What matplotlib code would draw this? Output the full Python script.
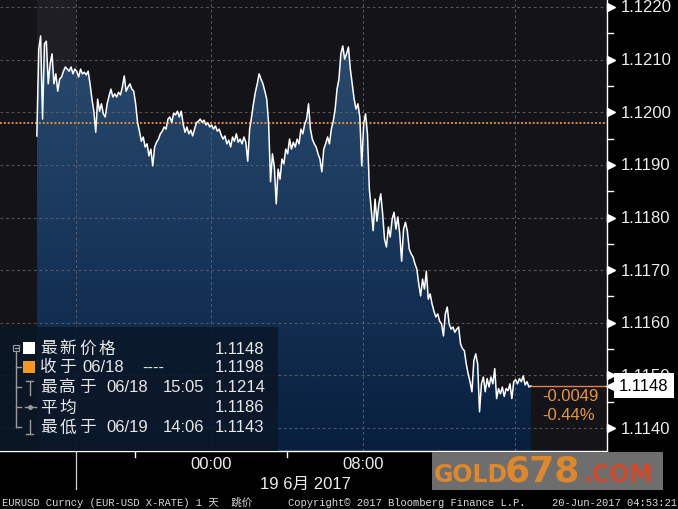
import numpy as np
import pandas as pd
import matplotlib
matplotlib.use("Agg")
import matplotlib.pyplot as plt
import matplotlib.dates as mdates
import matplotlib.transforms as mtransforms
from matplotlib.patches import Rectangle
from matplotlib.lines import Line2D
from matplotlib.colors import LinearSegmentedColormap

# ---------------- data ----------------
start_time = "2017-06-18 14:50"
step_minutes = 6
prices = [
    1.11955, 1.12120, 1.12145, 1.11987, 1.12130, 1.12135, 1.12054, 1.12092, 1.12111, 1.12054,
    1.12073, 1.12040, 1.12063, 1.12067, 1.12078, 1.12086, 1.12082, 1.12078, 1.12086, 1.12073,
    1.12082, 1.12078, 1.12067, 1.12082, 1.12073, 1.12076, 1.12071, 1.12078, 1.12054, 1.12025,
    1.12002, 1.11962, 1.12025, 1.12002, 1.12016, 1.11997, 1.11991, 1.12016, 1.12031, 1.12044,
    1.12029, 1.12035, 1.12029, 1.12038, 1.12033, 1.12048, 1.12069, 1.12040, 1.12048, 1.12054,
    1.12044, 1.12040, 1.12016, 1.11981, 1.11964, 1.11945, 1.11953, 1.11934, 1.11940, 1.11917,
    1.11930, 1.11898, 1.11934, 1.11943, 1.11949, 1.11959, 1.11964, 1.11972, 1.11968, 1.11987,
    1.11991, 1.11981, 1.11998, 1.11995, 1.12002, 1.11991, 1.12002, 1.11978, 1.11962, 1.11972,
    1.11959, 1.11966, 1.11955, 1.11968, 1.11980, 1.11983, 1.11987, 1.11981, 1.11985, 1.11976,
    1.11980, 1.11972, 1.11976, 1.11968, 1.11974, 1.11964, 1.11968, 1.11957, 1.11949, 1.11955,
    1.11940, 1.11947, 1.11934, 1.11953, 1.11945, 1.11959, 1.11943, 1.11949, 1.11940, 1.11953,
    1.11943, 1.11907, 1.11968, 1.11991, 1.12016, 1.12038, 1.12054, 1.12073, 1.12063, 1.12054,
    1.12040, 1.12025, 1.11978, 1.11868, 1.11921, 1.11896, 1.11826, 1.11892, 1.11873, 1.11911,
    1.11902, 1.11930, 1.11921, 1.11949, 1.11930, 1.11943, 1.11934, 1.11949, 1.11940, 1.11968,
    1.11959, 1.11978, 1.11987, 1.12016, 1.11968, 1.11949, 1.11940, 1.11934, 1.11921, 1.11911,
    1.11887, 1.11930, 1.11940, 1.11953, 1.11940, 1.11968, 1.11983, 1.12006, 1.12044, 1.12063,
    1.12111, 1.12126, 1.12101, 1.12111, 1.12124, 1.12082, 1.12054, 1.12025, 1.12006, 1.12016,
    1.11991, 1.11898, 1.11978, 1.11997, 1.11959, 1.11854, 1.11816, 1.11775, 1.11835, 1.11793,
    1.11826, 1.11845, 1.11807, 1.11759, 1.11744, 1.11782, 1.11763, 1.11797, 1.11810, 1.11778,
    1.11801, 1.11769, 1.11717, 1.11778, 1.11791, 1.11774, 1.11740, 1.11731, 1.11725, 1.11712,
    1.11702, 1.11674, 1.11651, 1.11683, 1.11664, 1.11698, 1.11645, 1.11655, 1.11636, 1.11622,
    1.11611, 1.11617, 1.11603, 1.11598, 1.11575, 1.11617, 1.11630, 1.11598, 1.11588, 1.11592,
    1.11582, 1.11588, 1.11592, 1.11560, 1.11551, 1.11547, 1.11522, 1.11503, 1.11488, 1.11469,
    1.11528, 1.11541, 1.11522, 1.11431, 1.11484, 1.11497, 1.11469, 1.11494, 1.11478, 1.11497,
    1.11484, 1.11513, 1.11456, 1.11475, 1.11465, 1.11478, 1.11460, 1.11475, 1.11471, 1.11484,
    1.11456, 1.11488, 1.11492, 1.11484, 1.11494, 1.11488, 1.11499, 1.11482, 1.11488, 1.11478,
    1.11480,
]
prev_close = 1.1198
y_ticks = [1.1140, 1.1150, 1.1160, 1.1170, 1.1180, 1.1190, 1.1200, 1.1210, 1.1220]
y_limits = (1.113564, 1.122152)
x_limits = ("2017-06-18 12:53:40", "2017-06-19 20:50:30")
session_mark = "2017-06-18 16:55"
grid_times = ["2017-06-18 16:55", "2017-06-19 00:00", "2017-06-19 08:00", "2017-06-19 16:00"]
minor_tick_times = ["2017-06-18 20:00", "2017-06-19 04:00", "2017-06-19 12:00", "2017-06-19 16:00"]
label_times = ["2017-06-19 00:00", "2017-06-19 08:00"]
label_texts = ["00:00", "08:00"]
date_label = "19 6月 2017"

legend_names = ["最新价格", "收于", "最高于", "平均", "最低于"]
legend_mid = ["", "06/18", "06/18", "", "06/19"]
legend_mid2 = ["", "----", "15:05", "", "14:06"]
legend_values = ["1.1148", "1.1198", "1.1214", "1.1186", "1.1143"]
change_abs = "-0.0049"
change_pct = "-0.44%"

footer_left = "EURUSD Curncy (EUR-USD X-RATE) 1 天  跳价"
footer_mid = "Copyright© 2017 Bloomberg Finance L.P."
footer_right = "20-Jun-2017 04:53:21"

# ---------------- helpers ----------------
W, H = 678, 510
def fx(x):
    return x / W
def fy(y):
    return 1 - y / H

times = pd.date_range(start_time, periods=len(prices), freq=f"{step_minutes}min")
tnum = mdates.date2num(times.to_pydatetime())
pr = np.array(prices)
def tn(s):
    return mdates.date2num(pd.Timestamp(s).to_pydatetime())

x0, x1 = tn(x_limits[0]), tn(x_limits[1])
ylo, yhi = y_limits

fig = plt.figure(figsize=(6.78, 5.10), dpi=100, facecolor="black")
ax = fig.add_axes([0, fy(452), fx(607), 452 / H])
ax.set_facecolor("#141318")
ax.set_xlim(x0, x1)
ax.set_ylim(ylo, yhi)
ax.set_xticks([])
ax.set_yticks([])
for s in ["top", "left"]:
    ax.spines[s].set_visible(False)
for s in ["right", "bottom"]:
    ax.spines[s].set_color("white")
    ax.spines[s].set_linewidth(1.0)

# session shading
ax.axvspan(tnum[0], tn(session_mark), color="#1f1e24", zorder=0.5, lw=0)

# gradient fill
poly = ax.fill_between(tnum, pr, ylo, facecolor="none", edgecolor="none", zorder=1)
cmap = LinearSegmentedColormap.from_list("f", ["#081f3e", "#17365a", "#2b4b6e"])
grad = np.linspace(1, 0, 256).reshape(-1, 1)
im = ax.imshow(grad, extent=[tnum[0], tnum[-1], ylo, pr.max()], aspect="auto",
               cmap=cmap, origin="upper", zorder=1, interpolation="bilinear")
im.set_clip_path(poly.get_paths()[0], transform=ax.transData)
ax.set_xlim(x0, x1)
ax.set_ylim(ylo, yhi)

# grid
for v in y_ticks:
    ax.axhline(v, color="#6a6a74", lw=0.8, ls=(0, (2.5, 2.5)), alpha=0.75, zorder=2)
for t in grid_times:
    ax.axvline(tn(t), color="#6a6a74", lw=0.8, ls=(0, (2.5, 2.5)), alpha=0.75, zorder=2)

# previous close dotted line
ax.axhline(prev_close, color="#e08a35", lw=1.4, ls=(0, (1.0, 1.0)), zorder=3)

# price line
ax.plot(tnum, pr, color="white", lw=1.1, zorder=4)
# last-price connector
ax.plot([tnum[-1], x1], [pr[-1], pr[-1]], color="#e47f4c", lw=1.0, zorder=4, clip_on=False)

# right axis labels
tr_y = mtransforms.blended_transform_factory(ax.transAxes, ax.transData)
for v in y_ticks:
    ax.plot([611 / 607], [v], marker=">", ms=6, color="white", transform=tr_y,
            clip_on=False, zorder=5)
    ax.text(621 / 607, v, f"{v:.4f}", transform=tr_y, ha="left", va="center",
            color="#ececec", fontsize=12, family="Liberation Sans", zorder=5, clip_on=False)
for v in y_ticks[:-1]:
    m = v + 0.0005
    ax.add_line(Line2D([1.0, 613 / 607], [m, m], transform=tr_y, color="white",
                       lw=1.0, clip_on=False, zorder=5))

# last price tag
ax.plot([612 / 607], [pr[-1]], marker="<", ms=8, color="white", transform=tr_y,
        clip_on=False, zorder=7)
ax.text(619 / 607, pr[-1], f"{pr[-1]:.4f}", transform=tr_y, ha="left", va="center",
        color="black", fontsize=12, family="Liberation Sans", zorder=8, clip_on=False,
        bbox=dict(boxstyle="square,pad=0.3", facecolor="white", edgecolor="none"))

# change texts
fig.text(fx(542), fy(397), change_abs, color="#e8973c", fontsize=12,
         family="Liberation Sans", ha="left", va="center", zorder=5)
fig.text(fx(542), fy(416), change_pct, color="#e8973c", fontsize=12,
         family="Liberation Sans", ha="left", va="center", zorder=5)

# x-axis ticks & labels
tr_x = mtransforms.blended_transform_factory(ax.transData, ax.transAxes)
for t in minor_tick_times:
    ax.add_line(Line2D([tn(t), tn(t)], [0, -6 / 452], transform=tr_x, color="white",
                       lw=1.0, clip_on=False))
ax.add_line(Line2D([tn(session_mark)] * 2, [0, -38 / 452], transform=tr_x,
                   color="#d0d0d0", lw=0.9, clip_on=False))
for t, s in zip(label_times, label_texts):
    ax.text(tn(t), -13 / 452, s, transform=tr_x, ha="center", va="center",
            color="#ececec", fontsize=12, family="Liberation Sans", clip_on=False)
fig.text(fx(305), fy(484), date_label, ha="center", va="center", color="#ececec",
         fontsize=12, family=["Liberation Sans", "Noto Sans CJK SC"])

# legend box
fig.patches.append(Rectangle((0, fy(452)), fx(278), (452 - 328) / H,
                             transform=fig.transFigure, facecolor="#0a1727",
                             edgecolor="none", alpha=0.88, zorder=2))
row_y = [349, 368, 388, 408, 428]
mid_x = [0, 82, 106, 0, 106]
mid2_x = [0, 142, 163, 0, 163]
icon_c = "#9a9a9a"
def fline(xs, ys, c=icon_c, lw=1.0):
    fig.lines.append(Line2D([fx(x) for x in xs], [fy(y) for y in ys],
                            transform=fig.transFigure, color=c, lw=lw, zorder=3))
# tree
fig.patches.append(Rectangle((fx(13), fy(352)), fx(6), 6 / H, transform=fig.transFigure,
                             facecolor="none", edgecolor=icon_c, lw=0.8, zorder=3))
fline([14.5, 17.5], [349, 349])
fline([16, 16], [352, 428])
for y in row_y[1:]:
    fline([16, 21], [y, y])
# markers
fig.patches.append(Rectangle((fx(23), fy(355)), fx(12), 12 / H, transform=fig.transFigure,
                             facecolor="white", edgecolor="none", zorder=3))
fig.patches.append(Rectangle((fx(23), fy(374)), fx(12), 12 / H, transform=fig.transFigure,
                             facecolor="#f39a1e", edgecolor="none", zorder=3))
fline([29.5, 29.5], [382, 396]); fline([26, 33], [382, 382])
fline([25, 36], [408, 408])
fig.lines.append(Line2D([fx(30)], [fy(408)], transform=fig.transFigure, marker="o",
                        ms=2.5, color=icon_c, zorder=3))
fline([29.5, 29.5], [421, 435]); fline([26, 33], [435, 435])

txt_c = "#e8e8e8"
for i, y in enumerate(row_y):
    for k, ch in enumerate(legend_names[i]):
        fig.text(fx(40 + k * 19.5), fy(y), ch, color=txt_c, fontsize=12,
                 family="Noto Sans CJK SC", ha="left", va="center", zorder=4)
    if legend_mid[i]:
        fig.text(fx(mid_x[i]), fy(y), legend_mid[i], color=txt_c, fontsize=12,
                 family="Liberation Sans", ha="left", va="center", zorder=4)
        fig.text(fx(mid2_x[i]), fy(y), legend_mid2[i], color=txt_c, fontsize=12,
                 family="Liberation Sans", ha="left", va="center", zorder=4)
    fig.text(fx(215), fy(y), legend_values[i], color=txt_c, fontsize=12,
             family="Liberation Sans", ha="left", va="center", zorder=4)

# watermark
fig.patches.append(Rectangle((fx(432), fy(491)), fx(231), 38 / H, transform=fig.transFigure,
                             facecolor="#6e6e6e", edgecolor="none", zorder=2))
fig.text(fx(434), fy(482), "GOLD", color="#de872c", fontsize=17, weight="bold",
         family="DejaVu Sans", ha="left", va="baseline", zorder=3)
fig.text(fx(505), fy(482), "678", color="#de872c", fontsize=26, weight="bold",
         family="DejaVu Sans", ha="left", va="baseline", zorder=3)
fig.text(fx(584), fy(482), ".COM", color="#cf4a2c", fontsize=17, weight="bold",
         family="DejaVu Sans", ha="left", va="baseline", zorder=3)

# footer
ff = ["Liberation Mono", "Noto Sans CJK SC"]
fig.text(fx(2), fy(503), footer_left, color="#d8d8d8", fontsize=7.6, family=ff,
         ha="left", va="center")
fig.text(fx(288), fy(503), footer_mid, color="#d8d8d8", fontsize=7.6, family=ff,
         ha="left", va="center")
fig.text(fx(677), fy(503), footer_right, color="#d8d8d8", fontsize=7.6, family=ff,
         ha="right", va="center")

fig.savefig("out.png", dpi=100, facecolor="black")
